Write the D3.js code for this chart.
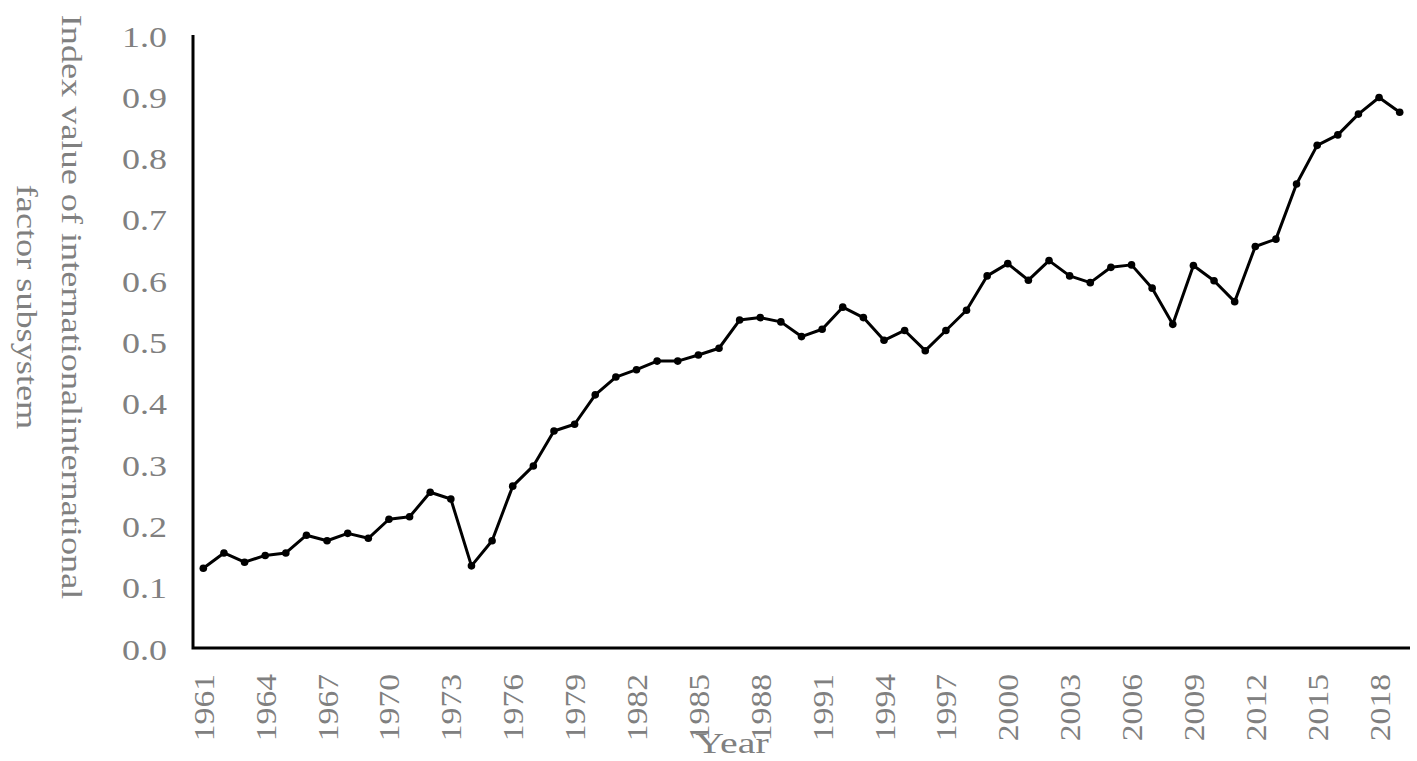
<!DOCTYPE html>
<html>
<head>
<meta charset="utf-8">
<script src="https://cdn.jsdelivr.net/npm/d3@7"></script>
<style>
  html, body { margin: 0; padding: 0; background: #fff; }
  svg { display: block; }
</style>
</head>
<body>
<svg id="chart" width="1417" height="761"></svg>
<script>
const years = d3.range(1961, 2020);
const values = [
  0.130, 0.155, 0.140, 0.151, 0.155, 0.184, 0.175, 0.187, 0.179, 0.210,
  0.214, 0.254, 0.243, 0.134, 0.175, 0.264, 0.297, 0.354, 0.365, 0.413,
  0.442, 0.454, 0.468, 0.468, 0.478, 0.489, 0.535, 0.539, 0.532, 0.508,
  0.520, 0.556, 0.539, 0.502, 0.518, 0.485, 0.518, 0.551, 0.607, 0.627,
  0.600, 0.632, 0.607, 0.596, 0.621, 0.625, 0.587, 0.528, 0.624, 0.599,
  0.565, 0.655, 0.667, 0.757, 0.820, 0.837, 0.871, 0.898, 0.874
];
const yTicks = [0, 0.1, 0.2, 0.3, 0.4, 0.5, 0.6, 0.7, 0.8, 0.9, 1.0];
const xTickYears = d3.range(1961, 2020, 3);
const yTitleLines = ["Index value of internationalinternational", "factor subsystem"];
const xTitle = "Year";

const svg = d3.select("#chart");
const mLeft = 193, mRight = 1410, mTop = 35, mBottom = 648;
const font = "'Liberation Serif', 'Times New Roman', serif";
const grey = "#808080";

const x = d3.scalePoint().domain(years).range([mLeft, mRight]).padding(0.5);
const y = d3.scaleLinear().domain([0, 1]).range([mBottom, mTop]);

// axes lines
svg.append("path")
  .attr("d", `M${mLeft},${mTop}V${mBottom}H${mRight}`)
  .attr("fill", "none").attr("stroke", "#000").attr("stroke-width", 3);

// y tick labels
svg.append("g").selectAll("text").data(yTicks).join("text")
  .attr("transform", d => `translate(167,${y(d) + 1}) scale(1.2,1)`)
  .attr("dy", "0.35em")
  .attr("text-anchor", "end")
  .attr("font-family", font).attr("font-size", 30).attr("fill", grey)
  .text(d => d3.format(".1f")(d));

// x tick labels
svg.append("g").selectAll("text").data(xTickYears).join("text")
  .attr("transform", d => `translate(${x(d)},674) rotate(-90) scale(1.12,1)`)
  .attr("dy", "0.35em")
  .attr("text-anchor", "end")
  .attr("font-family", font).attr("font-size", 30).attr("fill", grey)
  .text(d => d);

// y title
svg.append("text")
  .attr("transform", "translate(0,307) rotate(90) scale(1.25,1)")
  .attr("text-anchor", "middle")
  .attr("font-family", font).attr("font-size", 29).attr("fill", grey)
  .selectAll("tspan").data(yTitleLines).join("tspan")
  .attr("x", 0).attr("y", (d, i) => i === 0 ? -62 : -17)
  .text(d => d);

// x title
svg.append("text")
  .attr("transform", "translate(732,753) scale(1.33,1)")
  .attr("text-anchor", "middle")
  .attr("font-family", font).attr("font-size", 30).attr("fill", grey)
  .text(xTitle);

const data = years.map((yr, i) => ({ yr, v: values[i] }));

svg.append("path").datum(data)
  .attr("fill", "none").attr("stroke", "#000").attr("stroke-width", 3)
  .attr("stroke-linejoin", "round")
  .attr("d", d3.line().x(d => x(d.yr)).y(d => y(d.v)));

svg.append("g").selectAll("circle").data(data).join("circle")
  .attr("cx", d => x(d.yr)).attr("cy", d => y(d.v)).attr("r", 3.8)
  .attr("fill", "#000");
</script>
</body>
</html>
